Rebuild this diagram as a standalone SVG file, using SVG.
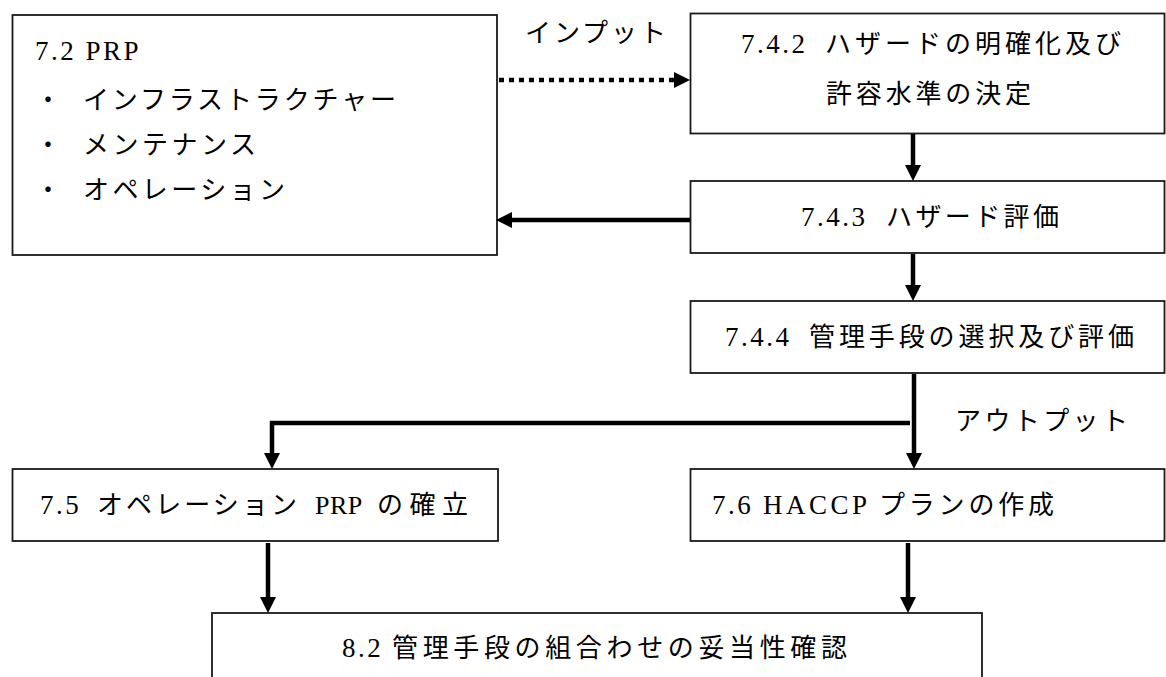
<svg xmlns="http://www.w3.org/2000/svg" width="1166" height="677" viewBox="0 0 1166 677">
  <style>
    .box { fill: #ffffff; stroke: #1a1a1a; stroke-width: 1.8; }
    .t { font-family: "Liberation Serif", "Noto Sans CJK JP", serif; font-size: 26px; fill: #000000; letter-spacing: 4px; }
    .lat { font-size: 27px; letter-spacing: 2.5px; }
    .conn { fill: none; stroke: #000000; stroke-width: 4.5; stroke-linejoin: miter; }
    .dot { stroke-dasharray: 5 5; }
  </style>
  <defs>
    <marker id="ah" markerUnits="userSpaceOnUse" markerWidth="16" markerHeight="16" refX="2" refY="8" orient="auto" overflow="visible">
      <path d="M0,0 L16,8 L0,16 Z" fill="#000000"/>
    </marker>
  </defs>
  <rect x="0" y="0" width="1166" height="677" fill="#ffffff"/>

  <g id="node-prp">
    <rect class="box" x="12.5" y="15" width="484.5" height="240"/>
    <text class="t lat" x="35" y="60">7.2 PRP</text>
    <text class="t" y="109"><tspan x="35">・ </tspan><tspan x="83" textLength="317" lengthAdjust="spacing">インフラストラクチャー</tspan></text>
    <text class="t" y="154"><tspan x="35">・ </tspan><tspan x="83" textLength="177" lengthAdjust="spacing">メンテナンス</tspan></text>
    <text class="t" y="199"><tspan x="35">・ </tspan><tspan x="83" textLength="206" lengthAdjust="spacing">オペレーション</tspan></text>
  </g>

  <g id="node-742">
    <rect class="box" x="690.5" y="13.5" width="474" height="120"/>
    <text class="t" y="53"><tspan class="lat" x="741">7.4.2 </tspan><tspan x="825" textLength="300" lengthAdjust="spacing">ハザードの明確化及び</tspan></text>
    <text class="t" x="826" y="103" textLength="209" lengthAdjust="spacing">許容水準の決定</text>
  </g>

  <g id="node-743">
    <rect class="box" x="690.5" y="181" width="474" height="72"/>
    <text class="t" y="226"><tspan class="lat" x="801">7.4.3 </tspan><tspan x="886" textLength="177" lengthAdjust="spacing">ハザード評価</tspan></text>
  </g>

  <g id="node-744">
    <rect class="box" x="690.5" y="301" width="474" height="72"/>
    <text class="t" y="346"><tspan class="lat" x="725">7.4.4 </tspan><tspan x="809" textLength="329" lengthAdjust="spacing">管理手段の選択及び評価</tspan></text>
  </g>

  <g id="node-75">
    <rect class="box" x="12.5" y="469" width="485.5" height="72"/>
    <text class="t" y="514"><tspan class="lat" x="40">7.5 </tspan><tspan x="97" textLength="204" lengthAdjust="spacing">オペレーション</tspan><tspan x="308" style="font-size:26px;letter-spacing:0.5px"> PRP </tspan><tspan x="377" textLength="95" lengthAdjust="spacing">の確立</tspan></text>
  </g>

  <g id="node-76">
    <rect class="box" x="690.5" y="469" width="474" height="72"/>
    <text class="t" y="514"><tspan class="lat" x="712">7.6 </tspan><tspan class="lat" x="763" style="letter-spacing:3.5px">HACCP </tspan><tspan x="879" textLength="179" lengthAdjust="spacing">プランの作成</tspan></text>
  </g>

  <g id="node-82">
    <rect class="box" x="212" y="613" width="770" height="100"/>
    <text class="t" y="657"><tspan class="lat" x="342">8.2 </tspan><tspan x="392" textLength="459" lengthAdjust="spacing">管理手段の組合わせの妥当性確認</tspan></text>
  </g>

  <g id="connectors">
    <path class="conn dot" d="M499,80 H676" marker-end="url(#ah)"/>
    <path class="conn" d="M913,134 V167" marker-end="url(#ah)"/>
    <path class="conn" d="M690,220 H510" marker-end="url(#ah)"/>
    <path class="conn" d="M913,254 V287" marker-end="url(#ah)"/>
    <path class="conn" d="M914,374 V455" marker-end="url(#ah)"/>
    <path class="conn" d="M910,423 H272 V455" marker-end="url(#ah)"/>
    <path class="conn" d="M268,543 V599" marker-end="url(#ah)"/>
    <path class="conn" d="M908,543 V599" marker-end="url(#ah)"/>
    <text class="t" x="525" y="42" textLength="145" lengthAdjust="spacing">インプット</text>
    <text class="t" x="955" y="430" textLength="177" lengthAdjust="spacing">アウトプット</text>
  </g>
</svg>
